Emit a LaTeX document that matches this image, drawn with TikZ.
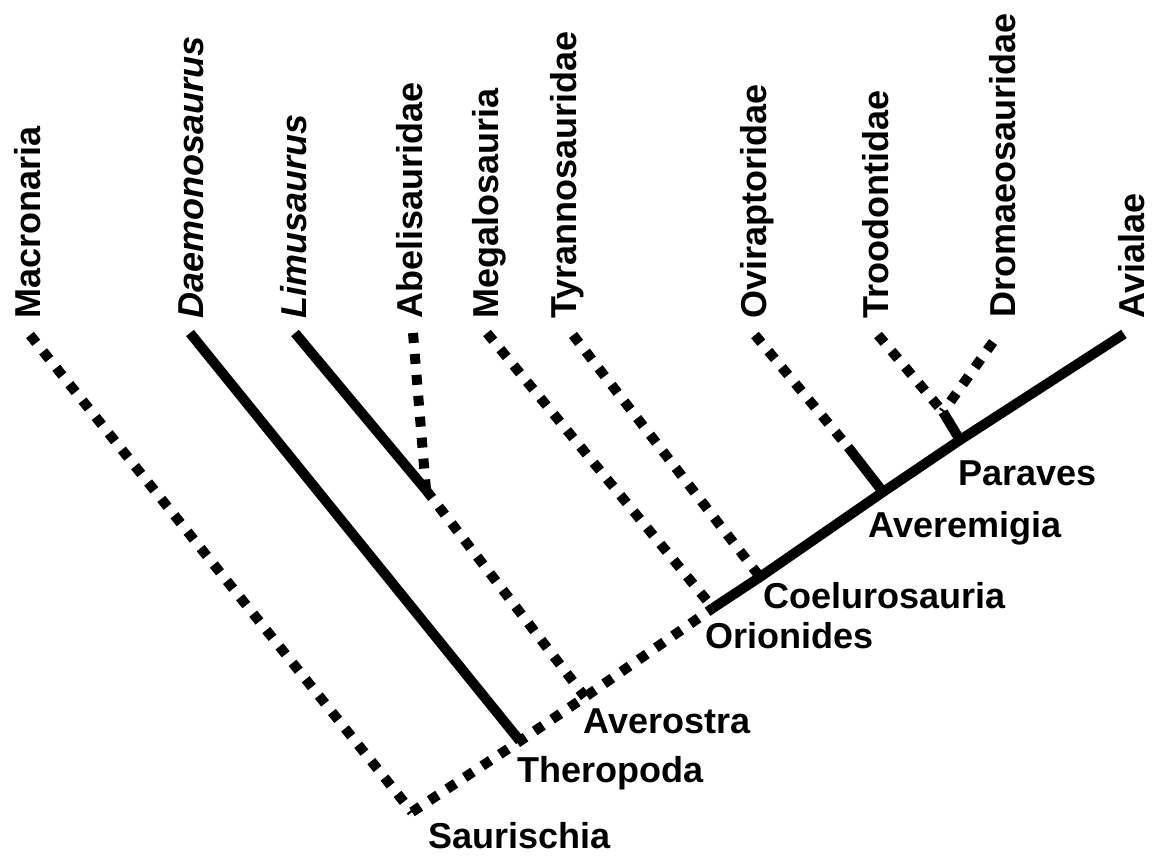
\documentclass[tikz,border=0pt]{standalone}
\usepackage{fontspec}
\setmainfont{Liberation Sans}
\tikzset{
  taxon/.style={
    rotate=90,
    anchor=base west,
    inner sep=0pt,
    font=\fontsize{20.5}{24}\selectfont\bfseries
  },
  genus/.style={
    taxon,
    font=\fontsize{20.5}{24}\selectfont\bfseries\itshape
  },
  clade/.style={
    anchor=base west,
    inner sep=0pt,
    font=\fontsize{20.5}{24}\selectfont\bfseries
  },
  branch/.style={line width=2mm},
  dotbranch/.style={line width=2mm, dash pattern=on 2mm off 2.2mm}
}

\begin{document}
\begin{tikzpicture}[x=0.2mm, y=-0.2mm]
    \useasboundingbox (0,0) rectangle (1152,856);
    % branch points
    \coordinate (saur) at (412,812);
    \coordinate (thero) at (520,741);
    \coordinate (cera) at (426,490);
    \coordinate (aver) at (585,697);
    \coordinate (orion) at (713,608);
    \coordinate (coel) at (760,577);
    \coordinate (averem) at (883,492);
    \coordinate (ovimid) at (848,447);
    \coordinate (parav) at (960,440);
    \coordinate (deino) at (943,412);
    % tips
    \coordinate (macro) at (30,335);
    \coordinate (daemo) at (190,333);
    \coordinate (limu) at (295,333);
    \coordinate (abeli) at (413,333);
    \coordinate (megalo) at (487,333);
    \coordinate (tyranno) at (573,335);
    \coordinate (ovi) at (755,335);
    \coordinate (troodon) at (878,335);
    \coordinate (dromaeo) at (993,342);
    \coordinate (avial) at (1124,334);

    % tip labels
    \node[taxon] (macrolbl) at ([shift={(10,-16)}]macro) {Macronaria};
    \node[genus] (daemolbl) at ([shift={(13,-14)}]daemo) {Daemonosaurus};
    \node[genus] (limulbl) at ([shift={(11,-14)}]limu) {Limusaurus};
    \node[taxon] (abelilbl) at ([shift={(9,-14)}]abeli) {Abelisauridae};
    \node[taxon] (megalolbl) at ([shift={(11,-14)}]megalo) {Megalosauria};
    \node[taxon] (tyrannolbl) at ([shift={(3,-16)}]tyranno) {Tyrannosauridae};
    \node[taxon] (ovilbl) at ([shift={(11,-16)}]ovi) {Oviraptoridae};
    \node[taxon] (troodonlbl) at ([shift={(10,-16)}]troodon) {Troodontidae};
    \node[taxon] (dromaeolbl) at ([shift={(22,-24)}]dromaeo) {Dromaeosauridae};
    \node[taxon] (aviallbl) at ([shift={(20,-15)}]avial) {Avialae};

    % clade labels
    \node[clade] (saurlbl) at ([shift={(16,36)}]saur) {Saurischia};
    \node[clade] (therolbl) at ([shift={(-3,41)}]thero) {Theropoda};
    \node[clade] (averlbl) at ([shift={(-2,36)}]aver) {Averostra};
    \node[clade] (orionlbl) at ([shift={(-8,40)}]orion) {Orionides};
    \node[clade] (coellbl) at ([shift={(3,31)}]coel) {Coelurosauria};
    \node[clade] (averemlbl) at ([shift={(-15,45)}]averem) {Averemigia};
    \node[clade] (paravlbl) at ([shift={(-2,45)}]parav) {Paraves};

    % backbone
    \draw[dotbranch] (saur) -- (thero) -- (aver) -- (orion);
    \draw[branch] (orion) -- (coel) -- (averem) -- (parav) -- (avial);

    % side branches
    \draw[dotbranch] (macro) -- (saur);
    \draw[branch] (daemo) -- (thero);
    \draw[branch] (limu) -- (cera);
    \draw[dotbranch] (abeli) -- (cera);
    \draw[dotbranch] (cera) -- (aver);
    \draw[dotbranch] (megalo) -- (orion);
    \draw[dotbranch] (tyranno) -- (coel);
    \draw[dotbranch] (ovi) -- (ovimid);
    \draw[branch] (ovimid) -- (averem);
    \draw[branch] (parav) -- (deino);
    \draw[dotbranch] (troodon) -- (deino);
    \draw[dotbranch] (dromaeo) -- (deino);
\end{tikzpicture}
\end{document}
